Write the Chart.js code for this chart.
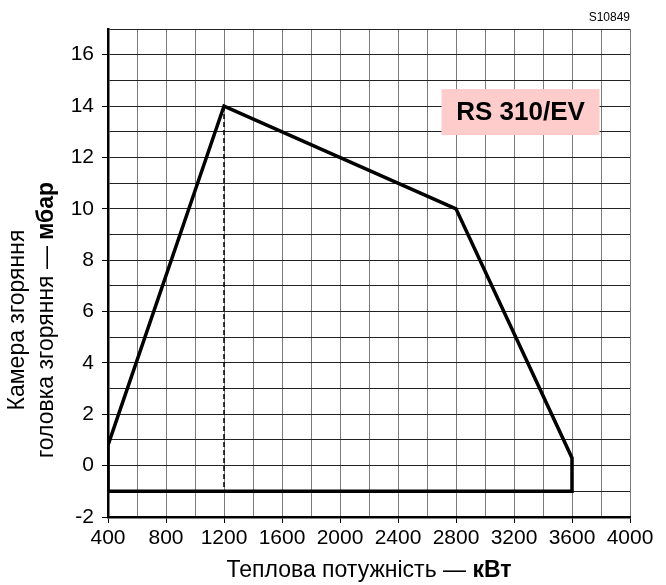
<!DOCTYPE html>
<html>
<head>
<meta charset="utf-8">
<script src="https://cdn.jsdelivr.net/npm/chart.js@4.4.1/dist/chart.umd.min.js"></script>
<style>
  html, body { margin: 0; padding: 0; background: #fff; }
  #wrap { width: 666px; height: 585px; }
</style>
</head>
<body>
<div id="wrap"><canvas id="chart1"></canvas></div>
<script>
// робоче поле пальника RS 310/EV
var potuzhnist = [400, 400, 1200, 2800, 3600, 3600, 400];
var tysk = [-1, 0.8, 14, 10, 0.3, -1, -1];
var liniyaX = [1200, 1200];
var liniyaY = [14, -1];
var xTicks = [400, 800, 1200, 1600, 2000, 2400, 2800, 3200, 3600, 4000];
var yTicks = [-2, 0, 2, 4, 6, 8, 10, 12, 14, 16];

var shrift = "'Liberation Sans', Arial, sans-serif";

function toPoints(xs, ys) {
  var pts = [];
  for (var i = 0; i < xs.length; i++) pts.push({ x: xs[i], y: ys[i] });
  return pts;
}

var napysy = {
  id: "napysy",
  afterDraw: function (chart) {
    var ctx = chart.ctx;
    var xs = chart.scales.x, ys = chart.scales.y;
    ctx.save();

    // рамка з назвою моделі
    var bx1 = xs.getPixelForValue(2700), bx2 = xs.getPixelForValue(3790);
    var by1 = ys.getPixelForValue(14.66), by2 = ys.getPixelForValue(12.87);
    ctx.fillStyle = "#ffcccc";
    ctx.fillRect(bx1, by1, bx2 - bx1, by2 - by1);
    ctx.fillStyle = "#000";
    ctx.font = "bold 26px " + shrift;
    ctx.textAlign = "center";
    ctx.textBaseline = "middle";
    ctx.fillText("RS 310/EV", (bx1 + bx2) / 2, (by1 + by2) / 2 + 1);

    // код малюнка
    ctx.font = "12px " + shrift;
    ctx.textAlign = "right";
    ctx.textBaseline = "alphabetic";
    ctx.fillText("S10849", chart.chartArea.right, 21);

    // підпис осі X
    var t1 = "Теплова потужність — ";
    ctx.font = "bold 23px " + shrift;
    var w2 = ctx.measureText("кВт").width;
    ctx.font = "23px " + shrift;
    var w1 = ctx.measureText(t1).width;
    var cx = (chart.chartArea.left + chart.chartArea.right) / 2;
    var sx = cx - (w1 + w2) / 2;
    ctx.textAlign = "left";
    ctx.textBaseline = "middle";
    ctx.fillText(t1, sx, 571);
    ctx.font = "bold 23px " + shrift;
    ctx.fillText("кВт", sx + w1, 571);

    // підпис осі Y
    var cy = (chart.chartArea.top + chart.chartArea.bottom) / 2 + 47;
    ctx.translate(0, cy);
    ctx.rotate(-Math.PI / 2);
    ctx.font = "23px " + shrift;
    ctx.textAlign = "center";
    ctx.fillText("Камера згоряння", 0, 18);
    var t3 = "головка згоряння — ";
    var w3 = ctx.measureText(t3).width;
    ctx.font = "bold 23px " + shrift;
    var w4 = ctx.measureText("мбар").width;
    ctx.textAlign = "left";
    ctx.font = "23px " + shrift;
    ctx.fillText(t3, -(w3 + w4) / 2, 47);
    ctx.font = "bold 23px " + shrift;
    ctx.fillText("мбар", -(w3 + w4) / 2 + w3, 47);
    ctx.restore();
  }
};

var grafico1 = new Chart(document.getElementById("chart1"), {
  type: "scatter",
  data: {
    datasets: [{
      data: toPoints(potuzhnist, tysk),
      showLine: true,
      borderColor: "#000",
      borderWidth: 3.5,
      borderJoinStyle: "miter",
      pointRadius: 0,
      tension: 0
    }, {
      data: toPoints(liniyaX, liniyaY),
      showLine: true,
      borderColor: "#000",
      borderWidth: 1.5,
      borderDash: [5, 3],
      pointRadius: 0
    }]
  },
  options: {
    responsive: true,
    maintainAspectRatio: false,
    animation: false,
    layout: { padding: { left: 0, right: 36, top: 29, bottom: 0 } },
    plugins: { legend: { display: false }, tooltip: { enabled: false } },
    scales: {
      x: {
        type: "linear",
        min: 400,
        max: 4000,
        afterFit: function (s) { s.height = 68; },
        afterBuildTicks: function (s) {
          var t = [];
          for (var v = 400; v <= 4000; v += 200) t.push({ value: v });
          s.ticks = t;
        },
        border: { color: "#000", width: 2.5 },
        grid: {
          color: "#7a7a7a",
          lineWidth: 1,
          tickLength: 6,
          tickColor: function (c) { return xTicks.indexOf(c.tick.value) >= 0 ? "#000" : "rgba(0,0,0,0)"; }
        },
        ticks: {
          color: "#000",
          padding: 3,
          maxRotation: 0,
          autoSkip: false,
          font: { family: shrift, size: 21 },
          callback: function (v) { return xTicks.indexOf(v) >= 0 ? String(v) : ""; }
        }
      },
      y: {
        type: "linear",
        min: -2,
        max: 17,
        afterFit: function (s) { s.width = 108; },
        afterBuildTicks: function (s) {
          var t = [];
          for (var v = -2; v <= 17; v += 1) t.push({ value: v });
          s.ticks = t;
        },
        border: { color: "#000", width: 2.5 },
        grid: {
          color: "#222",
          lineWidth: 1,
          tickLength: 6,
          tickColor: function (c) { return yTicks.indexOf(c.tick.value) >= 0 ? "#000" : "rgba(0,0,0,0)"; }
        },
        ticks: {
          color: "#000",
          padding: 8,
          autoSkip: false,
          font: { family: shrift, size: 21 },
          callback: function (v) { return yTicks.indexOf(v) >= 0 ? String(v) : ""; }
        }
      }
    }
  },
  plugins: [napysy]
});
</script>
</body>
</html>
